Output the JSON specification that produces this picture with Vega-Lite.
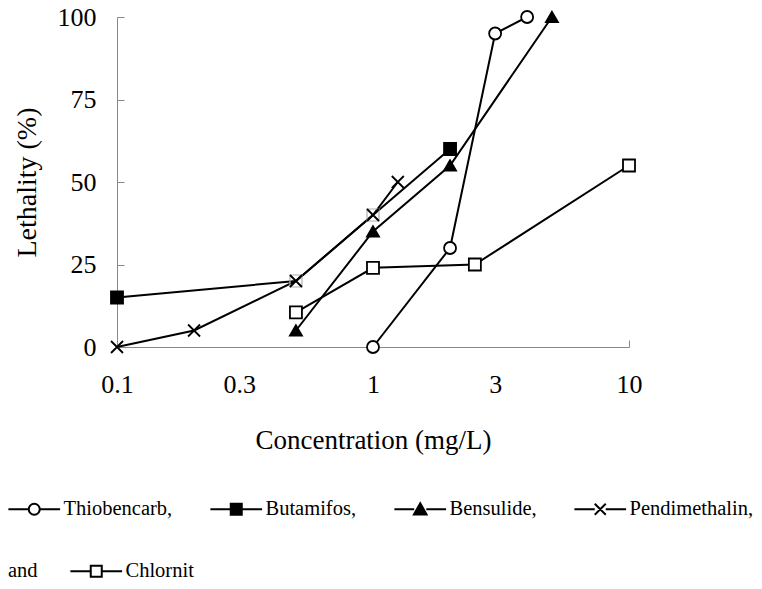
{
  "$schema": "https://vega.github.io/schema/vega-lite/v6.json",
  "width": 512,
  "height": 330,
  "autosize": "none",
  "padding": {"left": 117, "top": 17, "right": 133, "bottom": 242},
  "background": "white",
  "config": {"view": {"stroke": null}, "font": "Liberation Serif"},
  "data": {
    "values": [
      {"series": "Thiobencarb", "conc": 1, "lethality": 0},
      {"series": "Thiobencarb", "conc": 2, "lethality": 30},
      {"series": "Thiobencarb", "conc": 3, "lethality": 95},
      {"series": "Thiobencarb", "conc": 4, "lethality": 100},
      {"series": "Butamifos", "conc": 0.1, "lethality": 15},
      {"series": "Butamifos", "conc": 0.5, "lethality": 20},
      {"series": "Butamifos", "conc": 1, "lethality": 40},
      {"series": "Butamifos", "conc": 2, "lethality": 60},
      {"series": "Bensulide", "conc": 0.5, "lethality": 5},
      {"series": "Bensulide", "conc": 1, "lethality": 35},
      {"series": "Bensulide", "conc": 2, "lethality": 55},
      {"series": "Bensulide", "conc": 5, "lethality": 100},
      {"series": "Pendimethalin", "conc": 0.1, "lethality": 0},
      {"series": "Pendimethalin", "conc": 0.2, "lethality": 5},
      {"series": "Pendimethalin", "conc": 0.5, "lethality": 20},
      {"series": "Pendimethalin", "conc": 1, "lethality": 40},
      {"series": "Pendimethalin", "conc": 1.25, "lethality": 50},
      {"series": "Chlornit", "conc": 0.5, "lethality": 10.5},
      {"series": "Chlornit", "conc": 1, "lethality": 24},
      {"series": "Chlornit", "conc": 2.5, "lethality": 25},
      {"series": "Chlornit", "conc": 10, "lethality": 55}
    ]
  },
  "encoding": {
    "x": {
      "field": "conc",
      "type": "quantitative",
      "scale": {"type": "log", "domain": [0.1, 10], "nice": false},
      "axis": {
        "values": [0.1, 0.3, 1, 3, 10],
        "format": "~g",
        "tickSize": -7,
        "tickOpacity": {"condition": {"test": "datum.value == 0.3 || datum.value == 3", "value": 0}, "value": 1},
        "labelFlush": false,
        "labelOverlap": false,
        "labelPadding": 31,
        "labelFontSize": 26,
        "labelColor": "black",
        "labelFont": "Liberation Serif",
        "domainColor": "#888888",
        "tickColor": "#888888",
        "grid": false,
        "title": "Concentration (mg/L)",
        "titleFont": "Liberation Serif",
        "titleFontSize": 27,
        "titleFontWeight": "normal",
        "titleColor": "black",
        "titlePadding": 30
      }
    },
    "y": {
      "field": "lethality",
      "type": "quantitative",
      "scale": {"domain": [0, 100], "nice": false},
      "axis": {
        "values": [0, 25, 50, 75, 100],
        "tickSize": -7,
        "labelFlush": false,
        "labelPadding": 28,
        "labelFontSize": 26,
        "labelColor": "black",
        "labelFont": "Liberation Serif",
        "domainColor": "#888888",
        "tickColor": "#888888",
        "grid": false,
        "title": "Lethality (%)",
        "titleFont": "Liberation Serif",
        "titleFontSize": 28,
        "titleFontWeight": "normal",
        "titleColor": "black",
        "titlePadding": 16
      }
    }
  },
  "layer": [
    {
      "mark": {"type": "line", "color": "black", "strokeWidth": 2},
      "encoding": {"detail": {"field": "series", "type": "nominal"}}
    },
    {
      "transform": [{"filter": "datum.series == 'Butamifos' && (datum.conc == 0.5 || datum.conc == 1)"}],
      "mark": {"type": "point", "shape": "square", "filled": false, "stroke": "#b0b0b0", "strokeWidth": 1.2, "size": 144, "opacity": 1}
    },
    {
      "transform": [{"filter": "!(datum.series == 'Butamifos' && (datum.conc == 0.5 || datum.conc == 1))"}],
      "mark": {"type": "point", "stroke": "black", "strokeWidth": 1.8, "size": 144, "opacity": 1},
      "encoding": {
        "shape": {
          "field": "series",
          "type": "nominal",
          "scale": {
            "domain": ["Thiobencarb", "Butamifos", "Bensulide", "Pendimethalin", "Chlornit"],
            "range": ["circle", "square", "triangle-up", "M-1,-1L1,1M-1,1L1,-1", "square"]
          },
          "legend": null
        },
        "fill": {
          "field": "series",
          "type": "nominal",
          "scale": {
            "domain": ["Thiobencarb", "Butamifos", "Bensulide", "Pendimethalin", "Chlornit"],
            "range": ["white", "black", "black", "black", "white"]
          },
          "legend": null
        }
      }
    },
    {
      "transform": [{"filter": "datum.series != 'Chlornit'"}],
      "mark": {"type": "point", "stroke": "black", "strokeWidth": 2, "opacity": 0},
      "encoding": {
        "stroke": {"value": "black"},
        "shape": {
          "field": "series",
          "type": "nominal",
          "scale": {
            "domain": ["Thiobencarb", "Butamifos", "Bensulide", "Pendimethalin"],
            "range": [
              "M-4.7,0L-1,0M1,0L4.7,0M-1,0A1,1,0,1,1,1,0A1,1,0,1,1,-1,0Z",
              "M-4.7,0L-1,0M1,0L4.7,0M-1,-1L1,-1L1,1L-1,1Z",
              "M-4.7,0L-1.1,0M1.1,0L4.7,0M0,-1.1L1.15,0.95L-1.15,0.95Z",
              "M-4.7,0L-1,0M1,0L4.7,0M-1,-1L1,1M-1,1L1,-1"
            ]
          },
          "legend": {
            "orient": "none",
            "legendX": -93,
            "legendY": 482,
            "direction": "horizontal",
            "columns": 4,
            "gridAlign": "none",
            "title": null,
            "symbolSize": 121,
            "symbolStrokeWidth": 2,
            "symbolOpacity": 1,
            "labelFont": "Liberation Serif",
            "labelFontSize": 20.5,
            "labelColor": "black",
            "labelOffset": 19,
            "columnPadding": 33,
            "labelExpr": "datum.label + ','"
          }
        },
        "fill": {
          "field": "series",
          "type": "nominal",
          "scale": {
            "domain": ["Thiobencarb", "Butamifos", "Bensulide", "Pendimethalin"],
            "range": ["white", "black", "black", "black"]
          }
        }
      }
    },
    {
      "transform": [{"filter": "datum.series == 'Chlornit'"}],
      "mark": {"type": "point", "stroke": "black", "strokeWidth": 2, "opacity": 0},
      "encoding": {
        "stroke": {"value": "black"},
        "shape": {
          "field": "series",
          "type": "nominal",
          "scale": {
            "domain": ["Chlornit"],
            "range": ["M-4.7,0L-1,0M1,0L4.7,0M-1,-1L1,-1L1,1L-1,1Z"]
          },
          "legend": {
            "orient": "none",
            "legendX": -109,
            "legendY": 544,
            "title": "and",
            "titleOrient": "left",
            "titleFont": "Liberation Serif",
            "titleFontSize": 20.5,
            "titleFontWeight": "normal",
            "titleColor": "black",
            "titlePadding": 48,
            "symbolSize": 121,
            "symbolStrokeWidth": 2,
            "symbolOpacity": 1,
            "labelFont": "Liberation Serif",
            "labelFontSize": 20.5,
            "labelColor": "black",
            "labelOffset": 19
          }
        },
        "fill": {
          "field": "series",
          "type": "nominal",
          "scale": {"domain": ["Chlornit"], "range": ["white"]}
        }
      }
    }
  ],
  "resolve": {"scale": {"shape": "independent", "fill": "independent"}}
}
